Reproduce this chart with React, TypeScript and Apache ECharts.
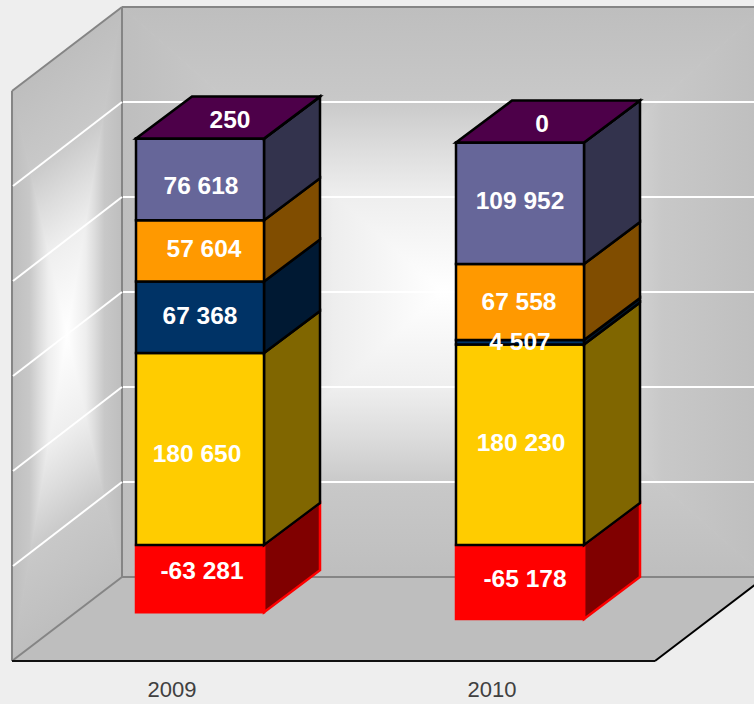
import React, { useEffect, useRef } from "react";
import * as echarts from "echarts";

const categories = ["2009", "2010"];

// Heights. The 2009 column agrees with its printed numbers;
// the 2010 column is drawn taller than its printed numbers, so its heights are measured.
const redValues = [-63281, -69600];
const yellowValues = [180650, 188700];
const navyValues = [67368, 4200];
const orangeValues = [57604, 71500];
const slateValues = [76618, 114300];
const capValues = [250, 0];

// Numbers printed on the columns.
const redLabels = ["-63 281", "-65 178"];
const yellowLabels = ["180 650", "180 230"];
const navyLabels = ["67 368", "4 507"];
const orangeLabels = ["57 604", "67 558"];
const slateLabels = ["76 618", "109 952"];
const capLabels = ["250", "0"];

const gridValues = [0, 89400, 178800, 268200, 357600];
const axisMin = -89400;
const axisMax = 447000;
const axisInterval = 89400;

const segments = [
  { values: redValues, labels: redLabels, front: "#FF0000", side: "#800000", edge: "#FF0000", offs: [[2, -8], [5, -3]] },
  { values: yellowValues, labels: yellowLabels, front: "#FFCC00", side: "#806600", edge: "#000000", offs: [[-3, 4], [1, -2]] },
  { values: navyValues, labels: navyLabels, front: "#003366", side: "#001933", edge: "#000000", offs: [[0, -2], [0, -1]] },
  { values: orangeValues, labels: orangeLabels, front: "#FF9900", side: "#804D00", edge: "#000000", offs: [[4, -2], [-1, -1]] },
  { values: slateValues, labels: slateLabels, front: "#666699", side: "#33334D", edge: "#000000", offs: [[1, 5.5], [0, -3]] },
  { values: capValues, labels: capLabels, front: "#990099", side: "#4D004D", edge: "#000000", top: "#4D0049", offs: [[30, -19.5], [22, -19]] },
];

const PLANE_DX = 28;
const PLANE_DY = -21;
const DEPTH_DX = 56;
const DEPTH_DY = -42;
const HALF_BAR = 64;
const WALL_DX = 110;
const WALL_DY = -84;

const wallStops = [
  { offset: 0, color: "#BEBEBE" },
  { offset: 0.32, color: "#C8C8C8" },
  { offset: 0.5, color: "#DDDDDD" },
  { offset: 0.66, color: "#EEEEEE" },
  { offset: 1, color: "#FFFFFF" },
];

type P = number[];

function rectGradientPieces(a: P, b: P, c: P, d: P) {
  const cx = (a[0] + b[0] + c[0] + d[0]) / 4;
  const cy = (a[1] + b[1] + c[1] + d[1]) / 4;
  const center = [cx, cy];
  const corners = [a, b, c, d];
  const pieces: any[] = [];
  for (let i = 0; i < 4; i++) {
    const p = corners[i];
    const q = corners[(i + 1) % 4];
    const ex = q[0] - p[0];
    const ey = q[1] - p[1];
    const t = ((cx - p[0]) * ex + (cy - p[1]) * ey) / (ex * ex + ey * ey);
    const fx = p[0] + t * ex;
    const fy = p[1] + t * ey;
    const gradient = new echarts.graphic.LinearGradient(fx, fy, cx, cy, wallStops, true);
    pieces.push({
      type: "polygon",
      shape: { points: [p, q, center] },
      style: { fill: gradient, stroke: gradient, lineWidth: 1 },
    });
  }
  return pieces;
}

function renderWalls(_: any, api: any) {
  const floorFront = api.coord([0, axisMin])[1];
  const wallTop = api.coord([0, axisMax])[1];
  const size = api.size([1, 0]);
  const left = api.coord([0, 0])[0] - size[0] / 2;
  const right = left + size[0] * 2 + 3;
  const backX = left + WALL_DX;
  const backBottom = floorFront + WALL_DY;
  const backTop = wallTop + WALL_DY;
  const backRight = right + WALL_DX;
  const border = { stroke: "#858585", lineWidth: 2 };
  const line = (x1: number, y1: number, x2: number, y2: number, style: any) => ({
    type: "line",
    shape: { x1, y1, x2, y2 },
    style,
  });
  return {
    type: "group",
    children: [
      {
        type: "polygon",
        shape: { points: [[left, floorFront], [right, floorFront], [backRight, backBottom], [backX, backBottom]] },
        style: { fill: "#BEBEBE" },
      },
      ...rectGradientPieces([backX, backTop], [backRight, backTop], [backRight, backBottom], [backX, backBottom]),
      ...rectGradientPieces([left, wallTop], [backX, backTop], [backX, backBottom], [left, floorFront]),
      line(left, wallTop, backX, backTop, border),
      line(backX, backTop, backRight, backTop, border),
      line(backX, backTop, backX, backBottom, border),
      line(left, wallTop, left, floorFront, border),
      line(left, floorFront, backX, backBottom, border),
      line(backX, backBottom, backRight, backBottom, border),
      line(left, floorFront, right, floorFront, { stroke: "#111111", lineWidth: 2 }),
      line(right, floorFront, backRight, backBottom, { stroke: "#000000", lineWidth: 2 }),
    ],
  };
}

function renderGridLine(_: any, api: any) {
  const y = api.coord([0, api.value(0)])[1];
  const size = api.size([1, 0]);
  const left = api.coord([0, 0])[0] - size[0] / 2;
  const right = left + size[0] * 2 + 3;
  const style = { stroke: "#FFFFFF", lineWidth: 2 };
  return {
    type: "group",
    children: [
      { type: "line", shape: { x1: left + 1, y1: y, x2: left + WALL_DX, y2: y + WALL_DY }, style },
      { type: "line", shape: { x1: left + WALL_DX + 1, y1: y + WALL_DY, x2: right + WALL_DX, y2: y + WALL_DY }, style },
    ],
  };
}

function segmentSpan(segIndex: number, cat: number) {
  let from = 0;
  if (segIndex > 0) {
    for (let i = 1; i < segIndex; i++) from += segments[i].values[cat];
  }
  const to = from + segments[segIndex].values[cat];
  return [from, to];
}

function makeSegmentRenderer(segIndex: number) {
  const seg: any = segments[segIndex];
  return (_: any, api: any) => {
    const cat = api.value(0);
    const [from, to] = segmentSpan(segIndex, cat);
    const cx = api.coord([cat, 0])[0] + PLANE_DX;
    const y0 = api.coord([cat, from])[1] + PLANE_DY;
    const y1 = api.coord([cat, to])[1] + PLANE_DY;
    const l = cx - HALF_BAR;
    const r = cx + HALF_BAR;
    const stroke = { stroke: seg.edge, lineWidth: 2.5, lineJoin: "miter" };
    const children: any[] = [
      {
        type: "polygon",
        shape: { points: [[r, y0], [r + DEPTH_DX, y0 + DEPTH_DY], [r + DEPTH_DX, y1 + DEPTH_DY], [r, y1]] },
        style: { fill: seg.side, ...stroke },
      },
      {
        type: "polygon",
        shape: { points: [[l, y0], [r, y0], [r, y1], [l, y1]] },
        style: { fill: seg.front, ...stroke },
      },
    ];
    if (seg.top) {
      children.push({
        type: "polygon",
        shape: { points: [[l, y1], [r, y1], [r + DEPTH_DX, y1 + DEPTH_DY], [l + DEPTH_DX, y1 + DEPTH_DY]] },
        style: { fill: seg.top, ...stroke },
      });
    }
    return { type: "group", children };
  };
}

function renderLabel(_: any, api: any) {
  const cat = api.value(0);
  const segIndex = api.value(1);
  const seg = segments[segIndex];
  const [from, to] = segmentSpan(segIndex, cat);
  const cx = api.coord([cat, 0])[0] + PLANE_DX;
  const y0 = api.coord([cat, from])[1] + PLANE_DY;
  const y1 = api.coord([cat, to])[1] + PLANE_DY;
  const [ox, oy] = seg.offs[cat];
  return {
    type: "text",
    style: {
      text: seg.labels[cat],
      x: cx + ox,
      y: (y0 + y1) / 2 + oy,
      align: "center",
      verticalAlign: "middle",
      fill: "#FFFFFF",
      font: 'bold 24.5px "Liberation Sans", Arial, sans-serif',
    },
  };
}

const barItems = categories.map((_, i) => [i]);
const labelItems: number[][] = [];
categories.forEach((_, c) => segments.forEach((__, s) => labelItems.push([c, s])));

export default function App() {
  const ref = useRef<HTMLDivElement>(null);
  useEffect(() => {
    const chart = echarts.init(ref.current!, undefined, { renderer: "svg" });
    chart.setOption({
      animation: false,
      backgroundColor: "#EEEEEE",
      grid: { left: 12, top: 91, width: 640, height: 570, containLabel: false },
      xAxis: {
        type: "category",
        data: categories,
        axisLine: { show: false },
        axisTick: { show: false },
        axisLabel: {
          margin: 17,
          fontSize: 22,
          color: "#404040",
          fontFamily: '"Liberation Sans", Arial, sans-serif',
        },
      },
      yAxis: {
        type: "value",
        min: axisMin,
        max: axisMax,
        interval: axisInterval,
        axisLine: { show: false },
        axisTick: { show: false },
        axisLabel: { show: false },
        splitLine: { show: false },
      },
      series: [
        { type: "custom", name: "walls", z: 1, silent: true, clip: false, data: [[0]], renderItem: renderWalls },
        {
          type: "custom",
          name: "gridlines",
          z: 2,
          silent: true,
          clip: false,
          data: gridValues.map((v) => [v]),
          encode: { y: 0 },
          renderItem: renderGridLine,
        },
        ...segments.map((_, i) => ({
          type: "custom",
          z: 3 + i,
          silent: true,
          clip: false,
          data: barItems,
          renderItem: makeSegmentRenderer(i),
        })),
        { type: "custom", name: "labels", z: 20, silent: true, clip: false, data: labelItems, renderItem: renderLabel },
      ],
    });
    return () => chart.dispose();
  }, []);
  return <div ref={ref} style={{ position: "absolute", left: 0, top: 0, width: 754, height: 704 }} />;
}
